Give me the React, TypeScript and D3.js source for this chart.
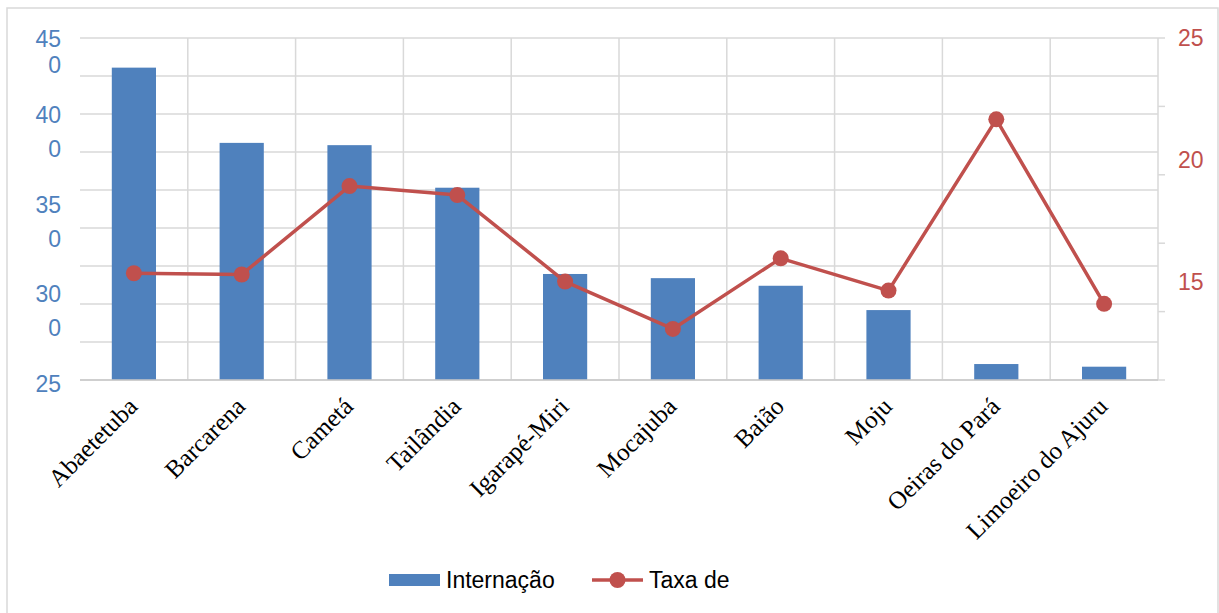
import React from "react";
import * as d3 from "d3";

const categories = [
  "Abaetetuba",
  "Barcarena",
  "Cametá",
  "Tailândia",
  "Igarapé-Miri",
  "Mocajuba",
  "Baião",
  "Moju",
  "Oeiras do Pará",
  "Limoeiro do Ajuru",
];
const internacoes = [411, 312, 309, 253, 139.5, 134, 124, 92, 21, 17.5];
const taxa = [15.37, 15.32, 18.94, 18.57, 15.03, 13.09, 15.98, 14.66, 21.67, 14.12];

const leftGridValues = d3.range(0, 451, 50);
const leftLabelValues = [450, 400, 350, 300, 250];
const leftLabelLines = [["45", "0"], ["40", "0"], ["35", "0"], ["30", "0"], ["25"]];
const rightTickValues = [11, 13.8, 16.6, 19.4, 22.2, 25];
const rightLabelValues = [25, 20, 15];
const legendLabels = ["Internação", "Taxa de"];

const W = 1219;
const H = 613;
const BLUE = "#4F81BD";
const RED = "#C0504D";
const GRID = "#D9D9D9";
const SANS = "'Liberation Sans', Arial, sans-serif";
const SERIF = "'Liberation Serif', 'Times New Roman', serif";

export default function App() {
  const left = 80;
  const right = 1158;
  const top = 38;
  const bottom = 380;

  const x = d3.scaleBand<string>().domain(categories).range([left, right]).padding(0);
  const barW = x.bandwidth() * 0.41;
  const yL = d3.scaleLinear().domain([0, 450]).range([bottom, top]);
  const yR = d3.scaleLinear().domain([11, 25]).range([bottom, top]);
  const labelY = d3.scaleLinear().domain([400, 250]).range([115, 383.5]);

  const line = d3
    .line<number>()
    .x((_, i) => (x(categories[i]) as number) + x.bandwidth() / 2)
    .y((d) => yR(d));

  return (
    <svg
      width={W}
      height={H}
      style={{ position: "absolute", left: 0, top: 0, background: "#fff" }}
      fontFamily={SANS}
    >
      <rect x={7} y={8} width={1211} height={H + 20} fill="#fff" stroke={GRID} strokeWidth={1.5} />

      {/* horizontal gridlines */}
      {leftGridValues.map((v) => (
        <line key={"h" + v} x1={left} x2={right} y1={yL(v)} y2={yL(v)} stroke={GRID} strokeWidth={1.5} />
      ))}
      {/* vertical gridlines */}
      {categories.slice(1).map((c) => (
        <line key={"v" + c} x1={x(c)} x2={x(c)} y1={top} y2={bottom} stroke={GRID} strokeWidth={1.5} />
      ))}

      {/* right axis */}
      <line x1={right} x2={right} y1={top} y2={bottom} stroke={GRID} strokeWidth={1.5} />
      {rightTickValues.map((v) => (
        <line key={"rt" + v} x1={right} x2={right + 7} y1={yR(v)} y2={yR(v)} stroke={GRID} strokeWidth={1.5} />
      ))}
      {rightLabelValues.map((v) => (
        <text key={"rl" + v} x={1178} y={yR(v)} dy="0.35em" fill={RED} fontSize={23}>
          {v}
        </text>
      ))}

      {/* left labels (wrapped) */}
      {leftLabelValues.map((v, i) => {
        const y0 = Math.max(top + 0.5, labelY(v));
        const gap = i === 0 ? 26.5 : 34;
        return (
          <text key={"ll" + v} x={61} textAnchor="end" fill={BLUE} fontSize={23}>
            {leftLabelLines[i].map((s, j) => (
              <tspan key={j} x={61} y={y0 + j * gap} dy="0.35em">
                {s}
              </tspan>
            ))}
          </text>
        );
      })}

      {/* bars */}
      {categories.map((c, i) => (
        <rect
          key={"b" + c}
          x={(x(c) as number) + x.bandwidth() / 2 - barW / 2}
          y={yL(internacoes[i])}
          width={barW}
          height={yL(0) - yL(internacoes[i])}
          fill={BLUE}
        />
      ))}

      {/* bottom axis */}
      <line x1={left} x2={right} y1={bottom} y2={bottom} stroke="#C8C8C8" strokeWidth={1.5} />

      {/* line series */}
      <path d={line(taxa) || ""} fill="none" stroke={RED} strokeWidth={3.5} strokeLinejoin="round" />
      {taxa.map((v, i) => (
        <circle
          key={"p" + i}
          cx={(x(categories[i]) as number) + x.bandwidth() / 2}
          cy={yR(v)}
          r={8}
          fill={RED}
        />
      ))}

      {/* category labels */}
      {categories.map((c) => {
        const cx = (x(c) as number) + x.bandwidth() / 2 + 5;
        return (
          <text
            key={"c" + c}
            transform={`translate(${cx},${408}) rotate(-45)`}
            textAnchor="end"
            fontFamily={SERIF}
            fontSize={25}
            fill="#000"
          >
            {c}
          </text>
        );
      })}

      {/* legend */}
      <rect x={389} y={574} width={51} height={12} fill={BLUE} />
      <text x={446} y={580} dy="0.35em" fontSize={23} fill="#000">
        {legendLabels[0]}
      </text>
      <line x1={592} x2={643} y1={580} y2={580} stroke={RED} strokeWidth={3.5} />
      <circle cx={617.5} cy={580} r={8} fill={RED} />
      <text x={649} y={580} dy="0.35em" fontSize={23} fill="#000">
        {legendLabels[1]}
      </text>
    </svg>
  );
}
